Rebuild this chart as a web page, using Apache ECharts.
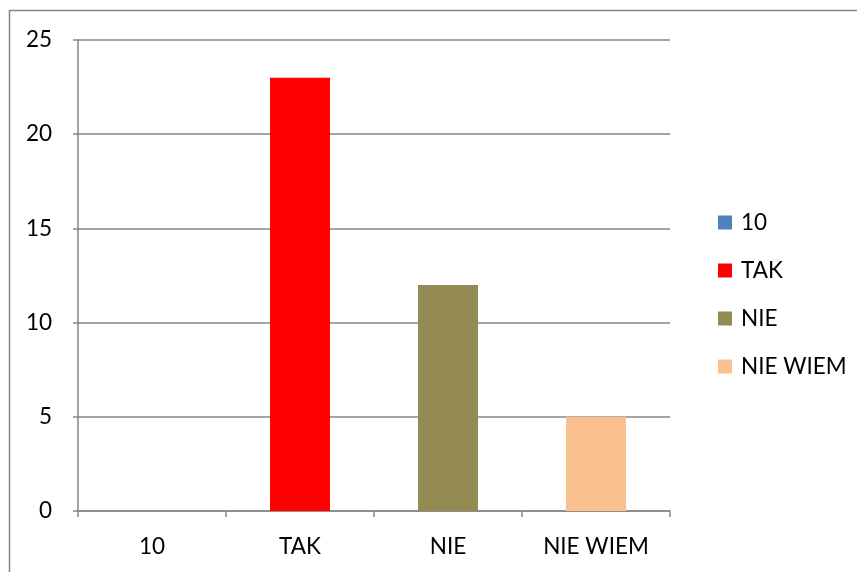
<!DOCTYPE html>
<html><head><meta charset="utf-8">
<script src="https://cdn.jsdelivr.net/npm/echarts@6/dist/echarts.min.js"></script>
<style>html,body{margin:0;padding:0;background:#fff}#c{width:857px;height:572px}</style>
</head><body><div id="c"></div>
<script>
const categories = ['10', 'TAK', 'NIE', 'NIE WIEM'];
const seriesNames = ['10', 'TAK', 'NIE', 'NIE WIEM'];
const values = [0, 23, 12, 5];
const colors = ['#4F81BD', '#FF0000', '#948A54', '#FAC090'];
const yTicks = [0, 5, 10, 15, 20, 25];

const FONT = 'Lato';
const FS = 22.5;
const chart = echarts.init(document.getElementById('c'), null, {renderer: 'canvas'});
const series = seriesNames.map((name, i) => ({
  name: name,
  type: 'bar',
  stack: 'all',
  barWidth: 60,
  itemStyle: {color: colors[i]},
  data: categories.map((c, j) => j === i ? values[i] : '-')
}));
chart.setOption({
  animation: false,
  textStyle: {fontFamily: FONT},
  graphic: [{
    type: 'rect', shape: {x: 9.5, y: 10.5, width: 870, height: 600},
    style: {fill: 'none', stroke: '#868686', lineWidth: 1.5}, silent: true
  }],
  grid: {left: 78, top: 40, width: 592, height: 471, containLabel: false},
  legend: {
    orient: 'vertical', left: 713, top: 206, itemGap: 25,
    itemWidth: 14, itemHeight: 14, icon: 'rect',
    textStyle: {fontFamily: FONT, fontSize: FS, color: '#000', padding: [0, 0, 0, 4]},
    data: seriesNames
  },
  xAxis: {
    type: 'category', data: categories,
    axisLine: {lineStyle: {color: '#868686', width: 1.5}},
    axisTick: {show: true, length: 6, lineStyle: {color: '#868686', width: 1.5}},
    axisLabel: {color: '#000', fontSize: FS, fontFamily: FONT, margin: 24}
  },
  yAxis: {
    type: 'value', min: yTicks[0], max: yTicks[yTicks.length - 1], interval: 5,
    axisLine: {show: true, lineStyle: {color: '#868686', width: 1.5}},
    axisTick: {show: true, length: 5, lineStyle: {color: '#868686', width: 1.5}},
    splitLine: {lineStyle: {color: '#868686', width: 1.5}},
    axisLabel: {color: '#000', fontSize: FS, fontFamily: FONT, margin: 26}
  },
  series: series
});
</script></body></html>
